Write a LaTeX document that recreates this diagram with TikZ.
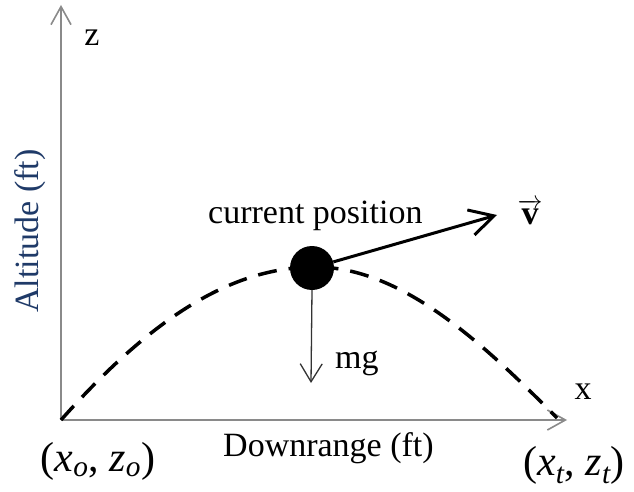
\documentclass[tikz,border=0pt]{standalone}
\usepackage{fontspec}
\setmainfont{Liberation Serif}
\usepackage{amsmath}
\usetikzlibrary{arrows.meta}
\definecolor{axisgray}{HTML}{8A8A8A}
\definecolor{altblue}{HTML}{1F3A68}

\begin{document}
\begin{tikzpicture}[x=1pt,y=-1pt,font=\fontsize{34}{40}\selectfont,
  ax/.style={draw=axisgray,line width=2pt,-{Straight Barb[length=18pt,width=20pt,line width=1.6pt]}},
  lbl/.style={inner sep=0pt},
  mlbl/.style={inner sep=0pt,font=\fontsize{42}{48}\selectfont},
  traj/.style={line width=3.5pt,dash pattern=on 19pt off 12pt},
  vel/.style={line width=3pt,-{Straight Barb[length=24pt,width=26pt,line width=3pt]}},
  grav/.style={draw=black!80,line width=1.3pt,-{Straight Barb[length=18pt,width=22pt,line width=1.3pt]}}]
\useasboundingbox (0,0) rectangle (634,492);
% axes
\coordinate (O) at (61,420);
\coordinate (ztop) at (61,5);
\coordinate (xend) at (567,420);
\draw[ax] (O) -- (ztop);
\draw[ax] (O) -- (xend);
\node[lbl] (zl) at (92,38) {z};
\node[lbl] (xl) at (583,392) {x};
\node[lbl,rotate=90,text=altblue] (alt) at (30,231) {Altitude (ft)};
\node[lbl,anchor=base west] (down) at (223,456) {Downrange (ft)};
\node[mlbl] (start) at (98,461) {(\textit{x}$_{\textit{o}}$, \textit{z}$_{\textit{o}}$)};
\node[mlbl] (end) at (574,465) {(\textit{x}$_{\textit{t}}$, \textit{z}$_{\textit{t}}$)};
% trajectory
\coordinate (land) at (557,418);
\draw[traj] (O) .. controls (150,320) and (230,267) .. (315,267)
  .. controls (400,267) and (480,340) .. (land);
% body and forces
\node[circle,fill=black,minimum size=44pt,inner sep=0pt] (ball) at (312,268) {};
\coordinate (vtip) at (497,215);
\draw[vel] (ball) -- (vtip);
\node[lbl] (vl) at (530,212) {$\overrightarrow{\textbf{v}}$};
\node[lbl,anchor=base west] (pos) at (208,223) {current position};
\coordinate (mgtip) at (311,383);
\draw[grav] (ball.south) -- (mgtip);
\node[lbl,anchor=base west] (mg) at (335,368) {mg};
\end{tikzpicture}
\end{document}
